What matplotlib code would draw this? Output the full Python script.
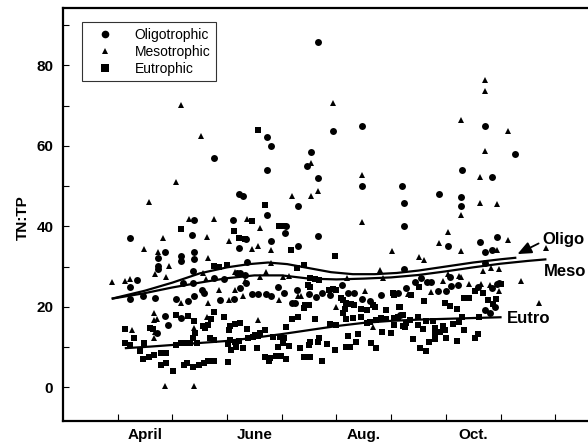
import matplotlib
matplotlib.use("Agg")
import matplotlib.pyplot as plt
from matplotlib.ticker import FixedLocator, MultipleLocator, NullFormatter

plt.rcParams['font.family'] = ['Liberation Sans', 'DejaVu Sans']

# sampling date as fractional month (4.0 = 1 April) and TN:TP ratio
oligo = [
    (7.66, 85.9), (8.47, 65.0), (7.93, 63.8), (6.73, 62.2), (6.81, 60.0),
    (7.53, 58.4), (7.47, 55.1), (6.73, 53.9), (7.67, 52.0), (8.47, 50.0),
    (9.20, 50.0), (6.22, 48.0), (6.29, 47.5), (7.30, 45.0), (9.23, 45.7),
    (6.73, 42.9), (6.10, 41.5), (7.08, 40.1), (9.23, 40.1), (6.35, 36.8),
    (7.06, 38.3), (7.67, 37.6), (6.81, 36.3), (7.30, 35.1), (6.21, 34.7),
    (5.76, 57.0), (5.39, 41.5), (4.23, 37.2), (5.36, 37.8), (10.71, 65.0),
    (11.27, 58.0), (10.30, 54.0), (10.84, 52.2), (9.87, 48.0), (10.27, 47.2),
    (10.27, 45.0), (10.04, 35.1), (10.63, 36.0), (10.94, 37.4), (10.71, 33.5),
    (10.85, 34.1), (9.23, 29.4), (10.71, 31.0), (9.55, 27.2), (9.66, 26.1),
    (9.73, 26.1), (9.43, 26.1), (10.07, 27.5), (4.86, 33.7), (4.73, 32.2),
    (5.16, 32.6), (5.40, 33.7), (5.16, 31.5), (5.40, 31.8), (4.73, 30.1),
    (4.73, 29.3), (5.37, 28.9), (6.19, 28.5), (4.36, 26.7), (4.23, 25.0),
    (5.19, 26.0), (5.37, 25.8), (5.76, 27.1), (5.94, 26.9), (5.54, 24.2),
    (5.57, 23.5), (6.23, 24.6), (4.46, 22.8), (4.69, 22.1), (4.23, 21.9),
    (5.06, 21.9), (5.29, 21.5), (5.40, 22.8), (5.87, 21.7), (6.13, 21.9),
    (4.87, 17.7), (4.92, 15.5), (5.16, 17.1), (4.71, 13.4), (6.37, 31.2),
    (6.23, 28.3), (6.32, 27.9), (6.35, 25.8), (8.10, 25.4), (6.93, 25.0),
    (6.46, 23.1), (6.57, 23.1), (6.71, 23.1), (6.80, 22.8), (7.04, 23.4),
    (7.27, 24.2), (7.49, 23.2), (7.63, 22.5), (7.74, 23.5), (7.88, 22.9),
    (8.21, 23.3), (8.33, 23.3), (8.47, 21.9), (8.61, 21.5), (8.82, 22.9),
    (9.13, 23.3), (9.27, 24.6), (7.18, 20.9), (7.24, 21.0), (9.17, 18.0),
    (10.10, 25.2), (10.22, 25.4), (9.86, 23.9), (10.01, 23.9), (10.58, 24.8),
    (10.84, 24.6), (10.94, 25.7), (10.98, 26.0), (10.90, 20.0), (10.71, 19.2),
    (10.80, 18.5),
]

meso = [
    (5.16, 70.1), (7.93, 70.7), (10.71, 76.5), (10.71, 73.6), (10.27, 66.4),
    (11.14, 63.7), (5.53, 62.4), (10.71, 58.8), (7.53, 55.8), (5.06, 51.1),
    (8.47, 52.7), (10.63, 52.2), (7.67, 48.9), (7.53, 47.6), (7.19, 47.6),
    (4.58, 46.0), (10.63, 45.7), (10.94, 45.5), (10.27, 42.8), (5.30, 41.8),
    (5.76, 41.8), (6.36, 41.7), (8.47, 41.1), (6.61, 39.7), (10.04, 38.7),
    (4.83, 37.1), (5.63, 37.3), (6.03, 36.3), (9.87, 35.9), (11.14, 36.6),
    (6.56, 35.1), (11.84, 34.7), (4.49, 34.3), (10.27, 33.9), (9.02, 33.9),
    (9.51, 32.4), (9.61, 31.6), (6.46, 34.3), (6.80, 34.1), (10.94, 34.1),
    (8.79, 29.1), (10.04, 28.1), (10.27, 27.5), (10.68, 28.9), (10.83, 29.6),
    (10.98, 29.3), (11.37, 26.5), (11.70, 21.0), (4.73, 33.5), (5.66, 32.2),
    (4.93, 30.2), (5.56, 28.5), (6.14, 28.7), (4.69, 28.1), (4.88, 27.5),
    (4.13, 26.5), (4.23, 26.9), (3.90, 26.1), (5.62, 26.8), (5.85, 24.2),
    (6.14, 24.2), (5.15, 21.0), (5.66, 20.9), (6.04, 21.7), (4.66, 18.4),
    (4.66, 16.7), (4.71, 17.0), (4.26, 14.1), (4.68, 13.8), (4.66, 12.2),
    (5.63, 17.4), (5.40, 14.6), (4.87, 0.2), (5.40, 0.2), (6.71, 28.7),
    (6.32, 26.5), (6.61, 27.3), (7.13, 27.7), (7.02, 27.3), (8.19, 27.1),
    (8.86, 27.1), (6.80, 31.0), (6.29, 22.8), (6.95, 21.7), (7.30, 22.8),
    (7.36, 22.8), (8.53, 23.9), (9.31, 23.2), (8.00, 20.0), (6.57, 16.7),
    (8.66, 14.9), (9.95, 26.5), (10.25, 27.6), (10.43, 25.7), (9.73, 23.6),
    (10.64, 25.7), (10.80, 25.3), (10.97, 24.0),
]

eutro = [
    (6.56, 63.9), (6.70, 45.3), (6.46, 41.4), (6.95, 40.1), (7.04, 40.1),
    (5.16, 39.3), (6.12, 38.8), (6.21, 37.2), (6.32, 36.8), (7.16, 34.0),
    (7.97, 32.5), (7.40, 30.4), (7.27, 29.6), (7.51, 27.2), (7.60, 26.8),
    (7.69, 26.7), (7.48, 25.4), (7.52, 25.0), (7.86, 24.2), (7.94, 24.3),
    (8.00, 24.2), (8.09, 22.1), (8.12, 21.7), (9.03, 23.5), (9.06, 23.0),
    (8.18, 20.9), (8.27, 20.7), (7.42, 20.4), (7.40, 19.6), (7.50, 20.4),
    (8.44, 19.5), (8.33, 20.4), (8.55, 19.2), (8.67, 20.4), (8.70, 19.9),
    (8.16, 19.4), (8.12, 18.4), (8.90, 19.2), (9.14, 20.0), (7.19, 16.9),
    (7.30, 17.5), (7.60, 16.9), (7.88, 15.7), (8.00, 15.5), (8.17, 16.9),
    (8.30, 17.1), (8.44, 17.4), (8.55, 15.9), (8.61, 16.3), (8.72, 16.7),
    (8.82, 17.1), (8.91, 16.9), (9.05, 17.1), (9.13, 17.4), (9.06, 15.5),
    (9.22, 15.1), (9.28, 15.9), (6.05, 15.1), (6.14, 15.7), (6.23, 15.9),
    (6.37, 14.5), (6.70, 14.2), (6.60, 13.4), (6.51, 13.0), (7.07, 14.9),
    (6.38, 12.2), (6.47, 12.4), (6.57, 12.7), (6.84, 12.4), (6.96, 12.4),
    (7.04, 12.2), (6.05, 11.7), (6.14, 11.3), (6.22, 11.6), (6.29, 9.7),
    (6.17, 10.1), (6.08, 9.3), (6.54, 9.7), (6.93, 10.1), (7.13, 10.3),
    (7.02, 10.9), (7.33, 9.7), (7.51, 11.3), (7.49, 10.5), (7.69, 12.2),
    (7.83, 10.7), (7.66, 11.3), (7.97, 9.3), (8.21, 12.7), (8.39, 13.2),
    (8.17, 10.1), (8.25, 9.9), (8.36, 11.3), (8.64, 10.9), (8.73, 9.7),
    (8.84, 13.8), (9.00, 13.6), (6.69, 7.6), (6.78, 7.2), (6.90, 7.8),
    (6.99, 7.8), (7.07, 7.0), (6.77, 6.6), (7.40, 7.6), (7.52, 7.6),
    (7.74, 6.6), (5.76, 30.1), (5.85, 30.0), (5.99, 30.4), (5.06, 18.0),
    (5.29, 17.8), (5.40, 16.5), (5.71, 16.9), (5.76, 18.8), (5.94, 17.4),
    (4.13, 14.4), (4.59, 14.7), (4.65, 14.5), (5.56, 15.1), (5.65, 15.5),
    (5.60, 14.7), (6.03, 14.2), (4.13, 11.0), (4.29, 12.2), (4.22, 10.5),
    (4.49, 11.0), (4.40, 8.9), (4.46, 7.0), (4.57, 7.5), (4.66, 7.9),
    (4.80, 8.4), (4.89, 8.6), (5.07, 10.5), (5.15, 10.9), (5.23, 10.9),
    (5.33, 11.1), (5.37, 12.2), (5.41, 13.4), (5.68, 12.2), (5.76, 11.7),
    (5.45, 10.9), (6.02, 10.7), (4.80, 5.5), (4.89, 6.0), (5.02, 4.1),
    (5.21, 5.5), (5.26, 6.1), (5.37, 5.0), (5.49, 5.5), (5.58, 6.0),
    (5.65, 6.4), (5.76, 6.6), (6.02, 6.2), (9.51, 25.0), (9.37, 22.9),
    (10.54, 23.8), (10.68, 23.5), (11.01, 25.6), (10.43, 22.1), (10.34, 22.1),
    (10.77, 21.7), (10.91, 21.9), (10.86, 20.7), (9.61, 21.5), (9.98, 21.0),
    (10.08, 20.2), (10.20, 19.4), (9.16, 20.0), (9.22, 18.0), (9.34, 16.7),
    (9.49, 17.4), (9.63, 16.5), (9.76, 16.5), (10.30, 17.4), (10.61, 17.4),
    (9.26, 14.9), (9.49, 15.5), (9.59, 14.4), (9.81, 14.7), (9.95, 15.1),
    (10.13, 15.7), (10.24, 16.1), (9.80, 13.2), (9.89, 13.8), (9.98, 14.2),
    (10.34, 14.1), (10.59, 13.2), (10.54, 12.2), (9.40, 12.0), (9.70, 11.3),
    (9.80, 11.9), (10.01, 12.2), (10.20, 11.5), (9.53, 9.7), (9.63, 9.1),
]

# smoothed seasonal trends for each group
oligo_trend = [
    (3.89, 22.0), (4.5, 24.0), (5.0, 26.0), (5.5, 28.3), (6.0, 29.8),
    (6.4, 30.6), (6.75, 31.0), (7.1, 30.6), (7.5, 29.6), (7.9, 28.6),
    (8.3, 28.1), (8.7, 28.1), (9.1, 28.4), (9.5, 29.0), (10.0, 30.0),
    (10.5, 31.0), (11.0, 31.8), (11.29, 32.2),
]
meso_trend = [
    (3.89, 22.0), (4.5, 23.4), (5.0, 24.8), (5.5, 26.0), (6.0, 27.1),
    (6.5, 27.8), (7.0, 27.8), (7.5, 27.0), (8.0, 26.8), (8.5, 27.0),
    (9.0, 27.3), (9.5, 27.9), (10.0, 28.8), (10.5, 29.8), (11.0, 30.7),
    (11.5, 31.4), (11.84, 31.8),
]
eutro_trend = [
    (4.13, 9.7), (4.6, 10.1), (5.0, 10.5), (5.5, 11.0), (6.0, 11.5),
    (6.5, 12.3), (7.0, 13.2), (7.5, 14.2), (8.0, 15.2), (8.5, 16.0),
    (9.0, 16.5), (9.5, 16.8), (10.0, 17.0), (10.5, 17.2), (11.02, 17.4),
]

month_ticks = [4, 5, 6, 7, 8, 9, 10, 11, 12]
month_label_pos = [4.5, 6.5, 8.5, 10.5]
month_labels = ['April', 'June', 'Aug.', 'Oct.']

fig = plt.figure(figsize=(5.88, 4.46), dpi=100)
ax = fig.add_axes([63 / 588, 25 / 446, 525 / 588, 413.5 / 446])

mk = dict(linestyle='none', color='black', markeredgewidth=0)
ax.plot(*zip(*oligo), marker='o', markersize=5.0, label='Oligotrophic', **mk)
ax.plot(*zip(*meso), marker='^', markersize=4.4, label='Mesotrophic', **mk)
ax.plot(*zip(*eutro), marker='s', markersize=5.0, label='Eutrophic', **mk)

for trend in (oligo_trend, meso_trend, eutro_trend):
    ax.plot(*zip(*trend), color='black', linewidth=1.6, solid_capstyle='butt')

ax.xaxis.set_major_locator(FixedLocator(month_ticks))
ax.xaxis.set_major_formatter(NullFormatter())
ax.xaxis.set_minor_locator(FixedLocator(month_label_pos))
ax.set_xticklabels(month_labels, minor=True)
ax.tick_params(axis='x', which='major', direction='in', length=5, width=0.8)
ax.tick_params(axis='x', which='minor', length=0, pad=5, labelsize=11)

ax.yaxis.set_major_locator(MultipleLocator(20))
ax.yaxis.set_minor_locator(FixedLocator([10, 30, 50, 70, 90]))
ax.tick_params(axis='y', which='both', direction='in', length=4, width=0.8,
               pad=7, labelsize=11)
ax.set_xlim(3.0, 12.6)
ax.set_ylim(-8.4, 94.4)
for lab in ax.get_xticklabels(minor=True) + ax.get_yticklabels():
    lab.set_fontweight('bold')

for side in ('left', 'top', 'bottom'):
    ax.spines[side].set_linewidth(1.6)
ax.spines['right'].set_visible(False)

fig.text(23 / 588, 1 - 218 / 446, 'TN:TP', rotation=90, ha='center',
         va='center', fontsize=11, fontweight='bold')

leg = ax.legend(loc='upper left', bbox_to_anchor=((82 - 63) / 525, 1 - 14.5 / 413.5),
                borderaxespad=0, fontsize=10, frameon=True, fancybox=False,
                edgecolor='black', handlelength=2.5, handletextpad=0.9,
                borderpad=0.4, labelspacing=0.22, markerscale=1.1)
leg.get_frame().set_linewidth(0.8)

ax.annotate('Oligo', xy=(11.31, 33.1), xytext=(11.77, 36.8),
            ha='left', va='center', fontsize=12, fontweight='bold',
            arrowprops=dict(arrowstyle='-|>,head_length=0.7,head_width=0.3',
                            color='black', lw=1.3, shrinkA=1, shrinkB=0,
                            relpos=(0, 0.35)),
            annotation_clip=False)
ax.text(11.79, 28.7, 'Meso', ha='left', va='center', fontsize=12,
        fontweight='bold', clip_on=False)
ax.text(11.11, 17.2, 'Eutro', ha='left', va='center', fontsize=12,
        fontweight='bold', clip_on=False)

fig.savefig('out.png', dpi=100)
